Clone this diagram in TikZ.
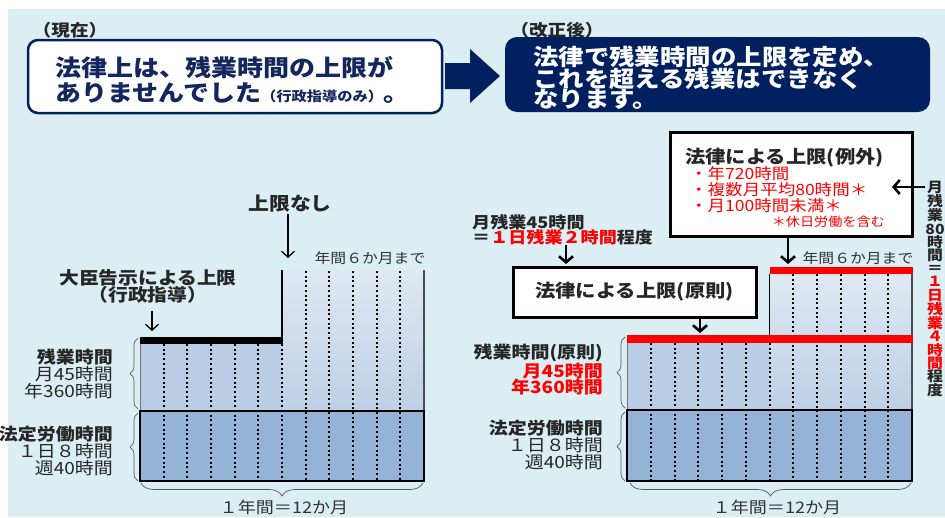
\documentclass[tikz,border=0pt]{standalone}
\usepackage{fontspec}
\setmainfont{Noto Sans CJK JP}[FakeStretch=1.13]
\usetikzlibrary{arrows.meta,decorations.pathreplacing}
\newcommand\myfs[2]{\fontsize{#1}{#2}\selectfont}
\definecolor{bgblue}{HTML}{DAEEF3}
\definecolor{navy}{HTML}{002060}
\definecolor{navytxt}{HTML}{14265E}
\definecolor{otfill}{HTML}{B9CDE5}
\definecolor{lgfill}{HTML}{95B3D7}
\definecolor{talltop}{HTML}{DFE8F2}
\definecolor{tallbot}{HTML}{BDD0E6}
\definecolor{txt}{HTML}{262626}
\definecolor{redc}{HTML}{FF0000}
\begin{document}
\begin{tikzpicture}[x=1pt,y=-1pt,
  lbl/.style={inner sep=0pt, text=txt},
  dotl/.style={line width=2pt, dash pattern=on 2pt off 2.7pt},
  brc/.style={decorate, decoration={brace, amplitude=#1}, line width=0.7pt, draw=black!65},
  brc/.default=8pt,
  thinarr/.style={line width=1.2pt, -{Straight Barb[length=6pt,width=13pt]}},
  chev/.style={line width=2.6pt, -{Straight Barb[length=6pt,width=14pt]}},
  limbox/.style={draw=black, line width=3pt, fill=white, inner sep=0pt},
]
\useasboundingbox (0,0) rectangle (945,517);
\fill[white] (0,0) rectangle (945,517);
\fill[bgblue] (8,9) rectangle (945,517);

% ---------- top part ----------
\node[lbl, font=\myfs{16.5}{17}\bfseries] (genzai) at (70,30) {（現在）};
\node[lbl, font=\myfs{16.5}{17}\bfseries] (kaisei) at (557,30) {（改正後）};
\node[draw=navy, line width=2.5pt, fill=white, rounded corners=10pt, minimum width=414pt, minimum height=73pt, inner sep=0pt] (boxnow) at (235,76.5) {};
\node[lbl, anchor=west, text=navytxt, font=\myfs{23}{23}\bfseries] (now1) at (55,67.5) {法律上は、残業時間の上限が};
\node[lbl, anchor=west, text=navytxt, font=\myfs{23}{23}\bfseries] (now2) at (55,93) {ありませんでした{\myfs{13.5}{14}（行政指導のみ）}。};
\node[fill=navy, rounded corners=12pt, minimum width=425pt, minimum height=75pt, inner sep=0pt] (boxnew) at (717.5,74.5) {};
\node[lbl, anchor=west, text=white, font=\myfs{22.5}{22.5}\bfseries] (new1) at (533,57) {法律で残業時間の上限を定め、};
\node[lbl, anchor=west, text=white, font=\myfs{22.5}{22.5}\bfseries] (new2) at (533,78.5) {これを超える残業はできなく};
\node[lbl, anchor=west, text=white, font=\myfs{22.5}{22.5}\bfseries] (new3) at (533,99.5) {なります。};
\fill[navy] (445,63) -- (470,63) -- (470,49) -- (500,76) -- (470,103) -- (470,89) -- (445,89) -- cycle;

% ---------- left chart ----------
\fill[top color=talltop, bottom color=tallbot] (282,270) rectangle (424,411);
\fill[otfill] (140,344) rectangle (282,411);
\fill[lgfill] (140,411) rectangle (424,481);
\foreach \k in {1,...,6} \draw[dotl] (140+\k*23.667,344) -- (140+\k*23.667,481);
\foreach \k in {7,...,11} \draw[dotl] (140+\k*23.667,271) -- (140+\k*23.667,481);
\draw[line width=0.8pt, black!55] (140,344) -- (140,411);
\draw[line width=1.5pt, black!70] (424,270) -- (424,411);
\draw[line width=1.8pt] (140,411) rectangle (424,481);
\draw[line width=7pt] (140,340.5) -- (283.25,340.5);
\draw[line width=2.5pt] (282,270) -- (282,344);
\draw[brc] (138,409) -- (138,338);
\draw[brc] (138,481) -- (138,413);
\draw[brc=13pt] (423,483) -- (141,483);

\node[lbl, anchor=east, align=right, font=\myfs{16.8}{17}] (ot1) at (113,374) {\textbf{残業時間}\\月45時間\\年360時間};
\node[lbl, anchor=east, align=right, font=\myfs{16.8}{17}] (lg1) at (113,451) {\textbf{法定労働時間}\\１日８時間\\週40時間};
\node[lbl, align=center, font=\myfs{17.5}{17}\bfseries] (daijin) at (148,286.5) {大臣告示による上限\\（行政指導）};
\node[lbl, font=\myfs{18.5}{18.5}\bfseries] (nolimit) at (290,204) {上限なし};
\node[lbl, font=\myfs{14}{14}, text=black!80] (six1) at (370,258) {年間６か月まで};
\node[lbl, font=\myfs{16}{16}, text=black!80] (year1) at (284,507.5) {１年間＝12か月};
\coordinate (nl) at (288,258);
\draw[thinarr, shorten <=1pt] (nolimit.south -| nl) -- (nl);
\coordinate (dj) at (152,331);
\draw[thinarr, shorten <=7pt] (daijin.south -| dj) -- (dj);

% ---------- right chart ----------
\fill[top color=talltop, bottom color=tallbot] (769.5,274) rectangle (912,410);
\fill[otfill] (627,343) rectangle (769.5,410);
\fill[lgfill] (627,410) rectangle (912,481);
\foreach \k in {1,...,6} \draw[dotl] (627+\k*23.75,343) -- (627+\k*23.75,481);
\foreach \k in {7,...,11} \draw[dotl] (627+\k*23.75,274) -- (627+\k*23.75,481);
\draw[line width=0.8pt, black!55] (627,343) -- (627,410);
\draw[line width=1.5pt, black!70] (912,274) -- (912,410);
\draw[line width=1.2pt] (769.5,274) -- (769.5,343);
\draw[line width=1.8pt] (627,410) rectangle (912,481);
\draw[redc, line width=8pt] (627,339) -- (912.75,339);
\draw[redc, line width=7.5pt] (769.5,270.5) -- (912.75,270.5);
\draw[brc] (625,408) -- (625,337);
\draw[brc] (625,481) -- (625,412);
\draw[brc=13pt] (911,483) -- (630,483);

\node[lbl, anchor=east, align=right, font=\myfs{16.8}{16.5}\bfseries] (ot2) at (603,369.5) {残業時間(原則)\\\textcolor{redc}{月45時間}\\\textcolor{redc}{年360時間}};
\node[lbl, anchor=east, align=right, font=\myfs{16.8}{17}] (lg2) at (603,445) {\textbf{法定労働時間}\\１日８時間\\週40時間};
\node[lbl, font=\myfs{14}{14}, text=black!80] (six2) at (858,258) {年間６か月まで};
\node[lbl, font=\myfs{16}{16}, text=black!80] (year2) at (777,507.5) {１年間＝12か月};

\node[limbox, minimum width=243pt, minimum height=50pt, font=\myfs{18}{18}\bfseries, text=txt] (gensoku) at (634.5,292) {法律による上限(原則)};
\node[limbox, minimum width=242pt, minimum height=104pt] (reigai) at (791,184) {};
\node[lbl, anchor=west, font=\myfs{18}{18}\bfseries] (rg0) at (685,158) {法律による上限(例外)};
\node[lbl, anchor=west, text=redc, font=\myfs{15.5}{16}] (rg1) at (690,174) {・年720時間};
\node[lbl, anchor=west, text=redc, font=\myfs{15.5}{16}] (rg2) at (690,190) {・複数月平均80時間＊};
\node[lbl, anchor=west, text=redc, font=\myfs{15.5}{16}] (rg3) at (690,206) {・月100時間未満＊};
\node[lbl, anchor=east, text=redc, font=\myfs{12.5}{13}] (rg4) at (885,222) {＊休日労働を含む};

\node[lbl, anchor=west, font=\myfs{16}{16}\bfseries] (m45a) at (472,222) {月残業45時間};
\node[lbl, anchor=west, font=\myfs{16}{16}\bfseries] (m45b) at (472,237) {＝\textcolor{redc}{１日残業２時間}程度};

\node[lbl, align=center, font=\myfs{14}{13.2}\bfseries] (vert) at (935,289) {月\\残\\業\\80\\時\\間\\＝\\\textcolor{redc}{１}\\\textcolor{redc}{日}\\\textcolor{redc}{残}\\\textcolor{redc}{業}\\\textcolor{redc}{４}\\\textcolor{redc}{時}\\\textcolor{redc}{間}\\程\\度};

\coordinate (c566) at (566,264);
\draw[chev] (m45b.south -| c566) -- (c566);
\coordinate (c700) at (700,333);
\draw[chev] (gensoku.south -| c700) -- (c700);
\coordinate (c788) at (788,264);
\draw[chev] (reigai.south -| c788) -- (c788);
\coordinate (c892) at (892,187);
\draw[chev] (vert.west |- c892) -- (c892);
\end{tikzpicture}
\end{document}
